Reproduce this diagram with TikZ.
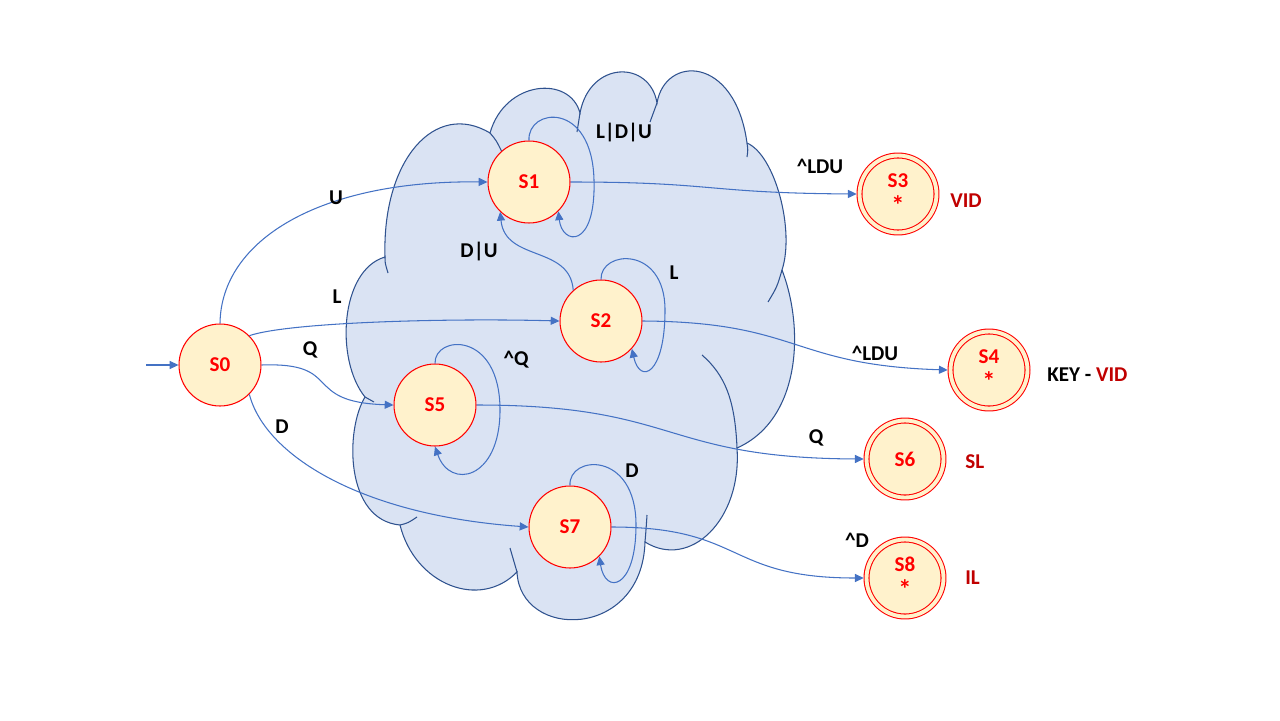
\documentclass[tikz,border=0pt]{standalone}
\usepackage{fontspec}
\setmainfont{Carlito}
\usepackage{tikz}
\usetikzlibrary{arrows.meta}
\definecolor{cldfill}{HTML}{DAE3F3}
\definecolor{cldline}{HTML}{2F528F}
\definecolor{arrblue}{HTML}{4472C4}
\definecolor{stfill}{HTML}{FFF2CC}
\definecolor{darkred}{HTML}{C00000}
\tikzstyle{st}=[circle, draw=red, fill=stfill, line width=0.6pt, minimum size=1.64cm, inner sep=0pt,
        text=red, font=\fontsize{12}{14.4}\selectfont\bfseries]
\tikzstyle{acc}=[st, minimum size=1.54cm, double=stfill, double distance=2.2pt, outer sep=1.6pt, align=center]
\tikzstyle{arr}=[draw=arrblue, line width=0.6pt, -{Triangle[length=5pt,width=4.6pt]}]
\tikzstyle{lab}=[inner sep=0pt, font=\fontsize{12}{14.4}\selectfont\bfseries]
\tikzstyle{outlab}=[lab, text=darkred, anchor=west]
\tikzstyle{cld}=[fill=cldfill, draw=cldline, line width=0.6pt]
\tikzstyle{crs}=[draw=cldline, line width=0.6pt]
\newcommand{\accstar}{{\fontsize{15}{14.4}\selectfont*}}

\begin{document}
\begin{tikzpicture}[x=0.02cm, y=-0.02cm]
\useasboundingbox (0,0) rectangle (1280,720);

\draw[cld] (385,257) .. controls (382,160) and (435,100) .. (490,133)
  .. controls (505,80) and (570,75) .. (580,113)
  .. controls (590,60) and (650,60) .. (657,103)
  .. controls (665,55) and (735,55) .. (747,143)
  .. controls (775,155) and (795,230) .. (782,270)
  .. controls (805,330) and (800,420) .. (737,448)
  .. controls (742,520) and (690,570) .. (645,542)
  .. controls (642,640) and (520,640) .. (517,572)
  .. controls (480,610) and (415,585) .. (400,525)
  .. controls (345,520) and (345,430) .. (365,397)
  .. controls (335,360) and (340,270) .. (385,257) -- cycle;
\draw[crs] (385,257) .. controls (385,263) .. (388,273);
\draw[crs] (490,133) .. controls (496,140) .. (502,152);
\draw[crs] (580,113) .. controls (578,122) .. (577,132);
\draw[crs] (657,103) .. controls (653,112) .. (650,122);
\draw[crs] (747,143) .. controls (748,150) .. (747,157);
\draw[crs] (782,270) .. controls (777,287) .. (768,302);
\draw[crs] (737,448) .. controls (735,400) and (725,375) .. (702,355);
\draw[crs] (645,542) .. controls (646,530) .. (647,515);
\draw[crs] (517,572) .. controls (513,560) .. (510,548);
\draw[crs] (400,525) .. controls (408,523) .. (417,517);
\draw[crs] (365,397) .. controls (369,400) .. (374,402);

\node[st] (s0) at (220,365) {S0};
\node[st] (s1) at (529,182) {S1};
\node[st] (s2) at (601,321) {S2};
\node[st] (s5) at (435,405) {S5};
\node[st] (s7) at (570,527) {S7};
\node[acc] (s3) at (898,194) {S3\\[1pt]\accstar};
\node[acc] (s4) at (989,370) {S4\\[1pt]\accstar};
\node[acc] (s6) at (905,459) {S6};
\node[acc] (s8) at (905,578) {S8\\[1pt]\accstar};
\coordinate (in0) at (146,365);

\draw[arr] (in0) -- (s0);
\draw[arr] (s0.north) .. controls (221,240) and (320,180) .. (s1.west);
\draw[arr] (s0.45) .. controls (290,322) and (450,318) .. (s2.west);
\draw[arr] (s0.east) .. controls (345,362) and (300,402) .. (s5.west);
\draw[arr] (s0.-45) .. controls (265,455) and (360,515) .. (s7.west);
\draw[arr] (s1.north) .. controls (527,108) and (592,100) .. (594,180)
  .. controls (596,250) and (562,245) .. (s1.-45);
\draw[arr] (s2.132) .. controls (570,245) and (505,262) .. (s1.226);
\draw[arr] (s2.north) .. controls (600,250) and (665,245) .. (665,310)
  .. controls (665,375) and (640,385) .. (s2.-42);
\draw[arr] (s5.north) .. controls (434,335) and (500,330) .. (500,410)
  .. controls (500,480) and (450,490) .. (s5.south);
\draw[arr] (s7.north) .. controls (568,455) and (636,450) .. (636,525)
  .. controls (636,590) and (605,595) .. (s7.-45);
\draw[arr] (s1.east) .. controls (715,182) and (705,193) .. (s3.west);
\draw[arr] (s2.east) .. controls (800,322) and (790,365) .. (s4.west);
\draw[arr] (s5.east) .. controls (680,405) and (660,458) .. (s6.west);
\draw[arr] (s7.east) .. controls (745,527) and (725,578) .. (s8.west);

\node[lab] (lu) at (336,198) {U};
\node[lab] (ll) at (337,297) {L};
\node[lab] (lq) at (310,350) {Q};
\node[lab] (ld) at (282,427) {D};
\node[lab] (ldu) at (479,252) {D|U};
\node[lab] (lldu) at (624,133) {L|D|U};
\node[lab] (ll2) at (674,273) {L};
\node[lab] (lnq) at (516,360) {\textasciicircum Q};
\node[lab] (ld7) at (632,471) {D};
\node[lab] (lnl3) at (820,166) {\textasciicircum LDU};
\node[lab] (lnl4) at (875,353) {\textasciicircum LDU};
\node[lab] (lq6) at (816,438) {Q};
\node[lab] (lnd) at (857,540) {\textasciicircum D};

\node[outlab] (o3) at (950,201) {VID};
\node[outlab, text=black] (o4) at (1047,375) {KEY - \textcolor{darkred}{VID}};
\node[outlab] (o6) at (965,462) {SL};
\node[outlab] (o8) at (965,578) {IL};
\end{tikzpicture}
\end{document}
